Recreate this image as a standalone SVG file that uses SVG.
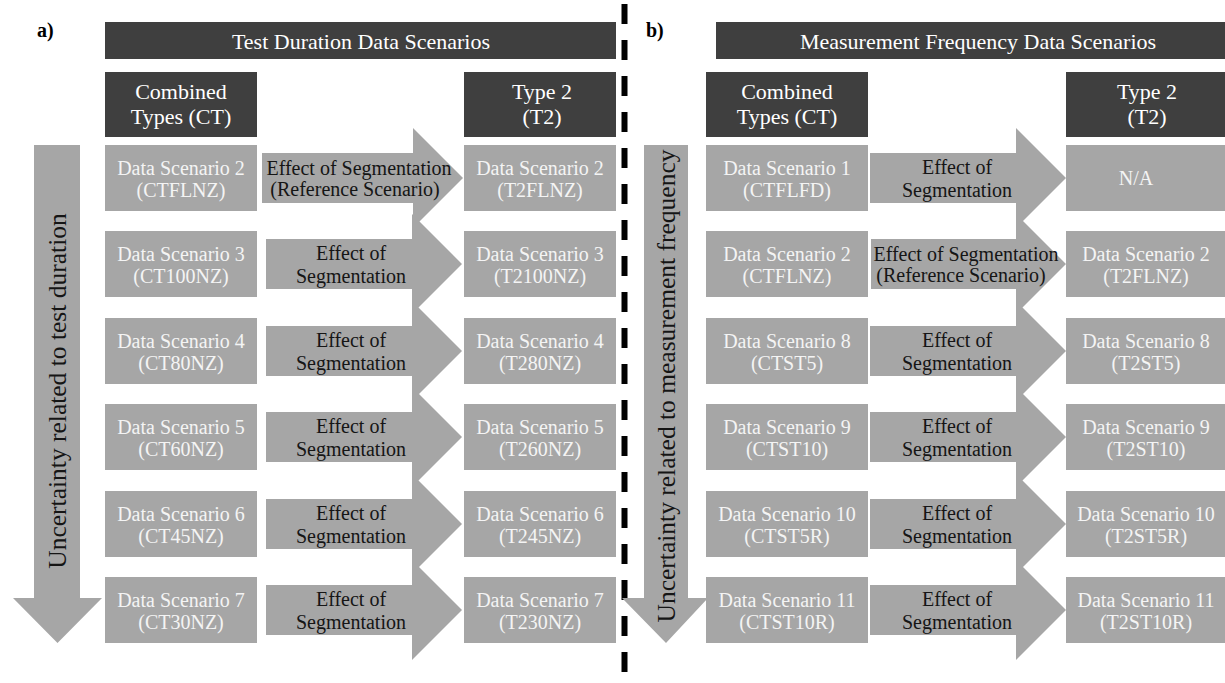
<svg xmlns="http://www.w3.org/2000/svg" width="1225" height="683" viewBox="0 0 1225 683">
<style>
  text { font-family: "Liberation Serif", "Times New Roman", serif; text-anchor: middle; }
  .dark { fill: #3f3f3f; }
  .box { fill: #a6a6a6; }
  .arr { fill: #a6a6a6; }
  .ht { font-size: 22px; fill: #ffffff; }
  .bt { font-size: 20px; fill: #f4f4f4; }
  .at { font-size: 20px; fill: #151515; }
  .vt { font-size: 25.5px; fill: #151515; }
  .lbl { font-size: 20px; font-weight: bold; fill: #000; text-anchor: start; }
  .dash { stroke: #000; stroke-width: 6; stroke-dasharray: 20 16; fill: none; }
</style>
<rect width="1225" height="683" fill="#ffffff"/>

<!-- divider -->
<line class="dash" x1="624.5" y1="4" x2="624.5" y2="683"/>

<!-- panel labels -->
<text class="lbl" x="37" y="37">a)</text>
<text class="lbl" x="646" y="37">b)</text>

<!-- vertical uncertainty arrows -->
<g id="uncertainty-a">
  <polygon class="arr" points="34,145 80,145 80,598 102,598 57.5,643 13,598 34,598"/>
  <text class="vt" transform="translate(65.5,391) rotate(-90)">Uncertainty related to test duration</text>
</g>
<g id="uncertainty-b">
  <polygon class="arr" points="644,145 688,145 688,598 708,598 666,643 622,598 644,598"/>
  <text class="vt" transform="translate(674.5,386) rotate(-90)">Uncertainty related to measurement frequency</text>
</g>

<!-- connectors: segmentation arrows -->
<g id="connectors">
  <g id="seg-a1">
    <polygon class="arr" points="262,153 413,153 413,128 463,178 413,228 413,203 262,203"/>
    <text class="at" x="359" y="175">Effect of Segmentation</text>
    <text class="at" x="355" y="196">(Reference Scenario)</text>
  </g>
  <g id="seg-a2">
    <polygon class="arr" points="266,239 412,239 412,214 462,264 412,314 412,289 266,289"/>
    <text class="at" x="351" y="260">Effect of</text>
    <text class="at" x="351" y="283">Segmentation</text>
  </g>
  <g id="seg-a3">
    <polygon class="arr" points="266,326 412,326 412,301 462,351 412,401 412,376 266,376"/>
    <text class="at" x="351" y="347">Effect of</text>
    <text class="at" x="351" y="370">Segmentation</text>
  </g>
  <g id="seg-a4">
    <polygon class="arr" points="266,412 412,412 412,387 462,437 412,487 412,462 266,462"/>
    <text class="at" x="351" y="433">Effect of</text>
    <text class="at" x="351" y="456">Segmentation</text>
  </g>
  <g id="seg-a5">
    <polygon class="arr" points="266,499 412,499 412,474 462,524 412,574 412,549 266,549"/>
    <text class="at" x="351" y="520">Effect of</text>
    <text class="at" x="351" y="543">Segmentation</text>
  </g>
  <g id="seg-a6">
    <polygon class="arr" points="266,585 412,585 412,560 462,610 412,660 412,635 266,635"/>
    <text class="at" x="351" y="606">Effect of</text>
    <text class="at" x="351" y="629">Segmentation</text>
  </g>

  <g id="seg-b1">
    <polygon class="arr" points="870,153 1016,153 1016,128 1066,178 1016,228 1016,203 870,203"/>
    <text class="at" x="957" y="174">Effect of</text>
    <text class="at" x="957" y="197">Segmentation</text>
  </g>
  <g id="seg-b2">
    <polygon class="arr" points="871,239 1016,239 1016,214 1066,264 1016,314 1016,289 871,289"/>
    <text class="at" x="966" y="261">Effect of Segmentation</text>
    <text class="at" x="961" y="282">(Reference Scenario)</text>
  </g>
  <g id="seg-b3">
    <polygon class="arr" points="870,326 1016,326 1016,301 1066,351 1016,401 1016,376 870,376"/>
    <text class="at" x="957" y="347">Effect of</text>
    <text class="at" x="957" y="370">Segmentation</text>
  </g>
  <g id="seg-b4">
    <polygon class="arr" points="870,412 1016,412 1016,387 1066,437 1016,487 1016,462 870,462"/>
    <text class="at" x="957" y="433">Effect of</text>
    <text class="at" x="957" y="456">Segmentation</text>
  </g>
  <g id="seg-b5">
    <polygon class="arr" points="870,499 1016,499 1016,474 1066,524 1016,574 1016,549 870,549"/>
    <text class="at" x="957" y="520">Effect of</text>
    <text class="at" x="957" y="543">Segmentation</text>
  </g>
  <g id="seg-b6">
    <polygon class="arr" points="870,585 1016,585 1016,560 1066,610 1016,660 1016,635 870,635"/>
    <text class="at" x="957" y="606">Effect of</text>
    <text class="at" x="957" y="629">Segmentation</text>
  </g>
</g>

<!-- panel a headers -->
<g id="hdr-a">
  <rect class="dark" x="105" y="22" width="511" height="37"/>
  <text class="ht" x="361" y="48.5">Test Duration Data Scenarios</text>
</g>
<g id="ct-a">
  <rect class="dark" x="105" y="72" width="152" height="65"/>
  <text class="ht" x="181" y="99">Combined</text>
  <text class="ht" x="181" y="124">Types (CT)</text>
</g>
<g id="t2-a">
  <rect class="dark" x="464" y="72" width="152" height="65"/>
  <text class="ht" x="542" y="99">Type 2</text>
  <text class="ht" x="542" y="124">(T2)</text>
</g>

<!-- panel a left boxes -->
<g id="a-ct-ds2"><rect class="box" x="105" y="145" width="152" height="66"/><text class="bt" x="181" y="175">Data Scenario 2</text><text class="bt" x="181" y="197">(CTFLNZ)</text></g>
<g id="a-ct-ds3"><rect class="box" x="105" y="231" width="152" height="66"/><text class="bt" x="181" y="261">Data Scenario 3</text><text class="bt" x="181" y="283">(CT100NZ)</text></g>
<g id="a-ct-ds4"><rect class="box" x="105" y="318" width="152" height="66"/><text class="bt" x="181" y="348">Data Scenario 4</text><text class="bt" x="181" y="370">(CT80NZ)</text></g>
<g id="a-ct-ds5"><rect class="box" x="105" y="404" width="152" height="66"/><text class="bt" x="181" y="434">Data Scenario 5</text><text class="bt" x="181" y="456">(CT60NZ)</text></g>
<g id="a-ct-ds6"><rect class="box" x="105" y="491" width="152" height="66"/><text class="bt" x="181" y="521">Data Scenario 6</text><text class="bt" x="181" y="543">(CT45NZ)</text></g>
<g id="a-ct-ds7"><rect class="box" x="105" y="577" width="152" height="66"/><text class="bt" x="181" y="607">Data Scenario 7</text><text class="bt" x="181" y="629">(CT30NZ)</text></g>

<!-- panel a right boxes -->
<g id="a-t2-ds2"><rect class="box" x="464" y="145" width="152" height="66"/><text class="bt" x="540" y="175">Data Scenario 2</text><text class="bt" x="540" y="197">(T2FLNZ)</text></g>
<g id="a-t2-ds3"><rect class="box" x="464" y="231" width="152" height="66"/><text class="bt" x="540" y="261">Data Scenario 3</text><text class="bt" x="540" y="283">(T2100NZ)</text></g>
<g id="a-t2-ds4"><rect class="box" x="464" y="318" width="152" height="66"/><text class="bt" x="540" y="348">Data Scenario 4</text><text class="bt" x="540" y="370">(T280NZ)</text></g>
<g id="a-t2-ds5"><rect class="box" x="464" y="404" width="152" height="66"/><text class="bt" x="540" y="434">Data Scenario 5</text><text class="bt" x="540" y="456">(T260NZ)</text></g>
<g id="a-t2-ds6"><rect class="box" x="464" y="491" width="152" height="66"/><text class="bt" x="540" y="521">Data Scenario 6</text><text class="bt" x="540" y="543">(T245NZ)</text></g>
<g id="a-t2-ds7"><rect class="box" x="464" y="577" width="152" height="66"/><text class="bt" x="540" y="607">Data Scenario 7</text><text class="bt" x="540" y="629">(T230NZ)</text></g>

<!-- panel b headers -->
<g id="hdr-b">
  <rect class="dark" x="716" y="22" width="509" height="37"/>
  <text class="ht" x="978" y="48.5">Measurement Frequency Data Scenarios</text>
</g>
<g id="ct-b">
  <rect class="dark" x="706" y="72" width="162" height="65"/>
  <text class="ht" x="787" y="99">Combined</text>
  <text class="ht" x="787" y="124">Types (CT)</text>
</g>
<g id="t2-b">
  <rect class="dark" x="1066" y="72" width="159" height="65"/>
  <text class="ht" x="1147" y="99">Type 2</text>
  <text class="ht" x="1147" y="124">(T2)</text>
</g>

<!-- panel b left boxes -->
<g id="b-ct-ds1"><rect class="box" x="706" y="145" width="162" height="66"/><text class="bt" x="787" y="175">Data Scenario 1</text><text class="bt" x="787" y="197">(CTFLFD)</text></g>
<g id="b-ct-ds2"><rect class="box" x="706" y="231" width="162" height="66"/><text class="bt" x="787" y="261">Data Scenario 2</text><text class="bt" x="787" y="283">(CTFLNZ)</text></g>
<g id="b-ct-ds8"><rect class="box" x="706" y="318" width="162" height="66"/><text class="bt" x="787" y="348">Data Scenario 8</text><text class="bt" x="787" y="370">(CTST5)</text></g>
<g id="b-ct-ds9"><rect class="box" x="706" y="404" width="162" height="66"/><text class="bt" x="787" y="434">Data Scenario 9</text><text class="bt" x="787" y="456">(CTST10)</text></g>
<g id="b-ct-ds10"><rect class="box" x="706" y="491" width="162" height="66"/><text class="bt" x="787" y="521">Data Scenario 10</text><text class="bt" x="787" y="543">(CTST5R)</text></g>
<g id="b-ct-ds11"><rect class="box" x="706" y="577" width="162" height="66"/><text class="bt" x="787" y="607">Data Scenario 11</text><text class="bt" x="787" y="629">(CTST10R)</text></g>

<!-- panel b right boxes -->
<g id="b-t2-na"><rect class="box" x="1066" y="145" width="159" height="66"/><text class="bt" x="1136" y="185">N/A</text></g>
<g id="b-t2-ds2"><rect class="box" x="1066" y="231" width="159" height="66"/><text class="bt" x="1146" y="261">Data Scenario 2</text><text class="bt" x="1146" y="283">(T2FLNZ)</text></g>
<g id="b-t2-ds8"><rect class="box" x="1066" y="318" width="159" height="66"/><text class="bt" x="1146" y="348">Data Scenario 8</text><text class="bt" x="1146" y="370">(T2ST5)</text></g>
<g id="b-t2-ds9"><rect class="box" x="1066" y="404" width="159" height="66"/><text class="bt" x="1146" y="434">Data Scenario 9</text><text class="bt" x="1146" y="456">(T2ST10)</text></g>
<g id="b-t2-ds10"><rect class="box" x="1066" y="491" width="159" height="66"/><text class="bt" x="1146" y="521">Data Scenario 10</text><text class="bt" x="1146" y="543">(T2ST5R)</text></g>
<g id="b-t2-ds11"><rect class="box" x="1066" y="577" width="159" height="66"/><text class="bt" x="1146" y="607">Data Scenario 11</text><text class="bt" x="1146" y="629">(T2ST10R)</text></g>
</svg>
